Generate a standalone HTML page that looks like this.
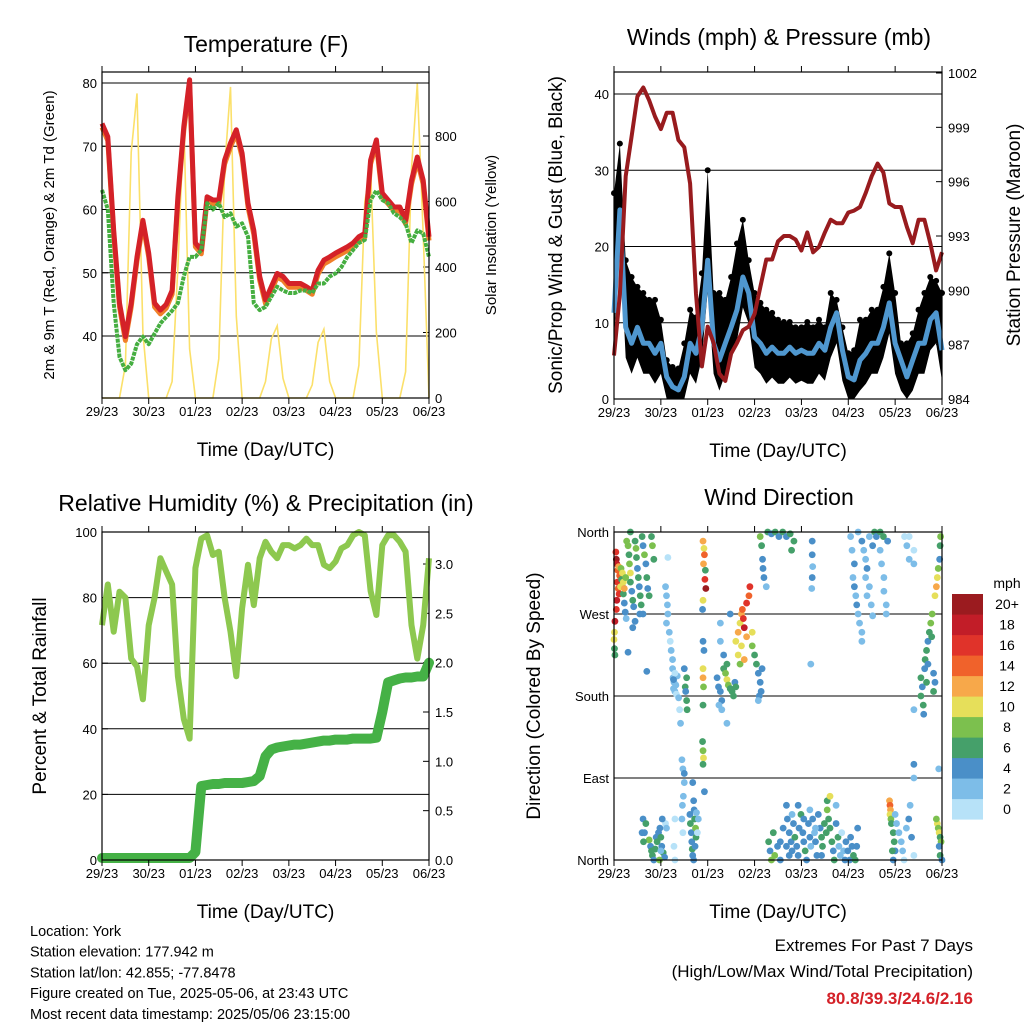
<!DOCTYPE html>
<html><head><meta charset="utf-8"><style>
html,body{margin:0;padding:0;background:#fff;}
svg{display:block;font-family:"Liberation Sans",sans-serif;}
</style></head><body>
<svg id="root" width="1024" height="1024" viewBox="0 0 1024 1024" xmlns="http://www.w3.org/2000/svg"></svg>
<script>
// ===== DATA (3-hourly samples, index i => day i/8) =====
const dayLabels = ["29/23","30/23","01/23","02/23","03/23","04/23","05/23","06/23"];
const tempRed = [73.6,71.5,56.7,45.2,39.9,45.2,52.5,58.3,53.1,45.2,44.1,45,47.2,62,73.1,80.5,54.7,53.6,62,61.5,61.5,67.8,70.5,72.6,68.9,61,56.7,49.4,45.7,47.8,49.9,49.4,48.3,48.3,48.3,47.8,47.2,50.4,52,52.5,53.1,53.6,54.1,54.7,55.7,56.2,67.8,71,62.6,61.5,60.4,60.4,58.3,64.6,68.3,64.6,55.7];
const dewGreen = [63.1,60,45.2,36.7,34.6,35.6,38.7,39.9,38.7,40.4,42,43,44,45.2,49.4,52.5,52.5,53.6,61,60,61,58.8,59.4,57.3,57.8,55.7,45.2,44.1,44.6,46.2,47.8,47.2,46.8,46.8,47.2,47.2,46.8,48.3,48.3,49.4,49.9,50.9,52.5,53.6,54.7,55.2,61.5,63,61.5,61,59.4,58.8,57.8,54.7,56.7,56.2,52.5];
const solar = [0,0,0,0,100,750,930,200, 0,0,0,0,50,400,850,150, 0,0,0,0,120,700,950,250, 0,0,0,0,50,180,220,60, 0,0,0,0,40,170,210,50, 0,0,0,0,100,600,700,200, 0,0,0,0,80,700,960,500, 0];
const windSpeed = [11.3,24.8,9.4,7.3,9.4,7.3,7.3,6,7.3,2.9,1.6,1.2,2.9,7.3,6,9.4,18.2,7.3,5.1,7.3,9.4,11.7,16,13.9,8.1,7.3,6,6.8,6,6,6.8,6,6.4,6,6,7.3,6.4,9.4,11.3,6.4,2.9,2.5,5.1,6,7.3,7.3,9.4,12.6,7.3,5.1,2.9,5.1,7.3,7.3,10.4,11.3,6.4];
const windGust = [27,33.5,18.2,16,14.7,13.9,13,13,10.4,5.1,4.2,4,7.3,11.7,10.7,16.5,30,13.9,13.9,13,16,20.4,23.5,18.2,13.9,12.6,11.7,11.3,10.4,10.1,10.1,9.4,9.4,10.1,9.4,10.4,9.4,13.9,13,9.4,6,6.4,10.4,10.4,11.7,11.7,14.7,19.1,13.9,7.3,7.3,8.6,11.7,13.9,16,15.5,13.9];
const pressure = [986.4,989.8,996.3,998.5,1000.7,1001.2,1000.5,999.6,998.9,999.8,999.8,998.3,997.9,995.9,989.8,985.8,988,987.1,985.4,985,986.5,987.1,987.8,988,988.7,990.2,991.7,991.7,992.7,993,993,992.8,992.2,993.2,992.1,992.4,993.2,993.9,993.7,993.7,994.3,994.4,994.6,995.4,996.3,997,996.5,994.8,994.6,994.6,993.5,992.6,993.9,993.9,992.6,991.1,992.1];
const relHum = [71.6,84,69.6,81.8,80,61.4,59,49,71.6,80,92,88,84,56,43,37,89,98,99,93,94,80,69.6,56,76.7,90,77.7,92,97,94,92,96,96,95,96,98,96,96,90,89,91,95,96,99,100,99,82,74.7,96,99,99,97,94,71.6,61.4,71.6,92];
const precip = [0.02,0.02,0.02,0.02,0.02,0.02,0.02,0.02,0.02,0.02,0.02,0.02,0.02,0.02,0.02,0.02,0.08,0.75,0.76,0.77,0.77,0.78,0.78,0.78,0.78,0.79,0.80,0.85,1.05,1.12,1.14,1.15,1.16,1.17,1.17,1.18,1.19,1.20,1.21,1.21,1.22,1.22,1.22,1.23,1.23,1.23,1.23,1.24,1.5,1.80,1.82,1.84,1.85,1.85,1.86,1.86,2.0];
const tempTicks = [40,50,60,70,80];
const solarTicks = [0,200,400,600,800];
const windTicks = [0,10,20,30,40];
const pressTicks = [984,987,990,993,996,999,1002];
const rhTicks = [0,20,40,60,80,100];
const rainTicks = [0.0,0.5,1.0,1.5,2.0,2.5,3.0];
const dirTicks = [0,90,180,270,360];
const dirTickLabels = ["North","East","South","West","North"];
const speedBins = ["0","2","4","6","8","10","12","14","16","18","20+"];
const speedColors = ["#b7e2f8","#7dbde8","#4a8fc8","#45a06a","#7cc04e","#e6df5a","#f7a84a","#f0622b","#e0332a","#c21d28","#9b1b1f"];
// [day, direction deg, speed mph]
const windDirObs = [
[0.04,338,16],[0.05,330,20],[0.06,325,18],[0.08,318,14],[0.1,322,12],[0.12,312,14],[0.07,305,16],[0.09,298,14],[0.11,292,16],[0.06,285,18],[0.05,275,16],[0.02,262,18],[0.01,250,10],[0.0,242,10],[0.01,232,6],[0.02,225,6],[0.15,320,8],[0.16,308,6],[0.18,300,4],[0.2,292,6],[0.22,282,4],[0.24,272,4],[0.26,265,2],[0.14,300,10],[0.18,315,10],[0.2,305,10],[0.22,298,12],[0.25,310,8],[0.3,228,4],
[0.3,345,8],[0.32,335,6],[0.33,325,8],[0.35,315,10],[0.35,305,6],[0.38,295,4],[0.4,285,6],[0.42,278,4],[0.45,350,6],[0.47,342,8],[0.48,332,6],[0.5,320,4],[0.52,310,6],[0.54,300,4],[0.56,290,6],[0.58,280,6],[0.6,355,6],[0.62,345,4],[0.65,335,8],[0.68,325,4],[0.7,310,6],[0.72,298,4],[0.75,290,6],[0.8,355,6],[0.82,345,8],[0.85,330,6],[0.62,270,4],[0.55,270,4],[0.45,262,4],[0.4,255,4],[0.7,207,4],[0.35,360,6],[0.27,350,8],
[1.15,332,0],[1.1,300,2],[1.12,290,2],[1.14,280,2],[1.15,270,2],[1.12,260,2],[1.18,250,2],[1.2,240,0],[1.22,230,2],[1.25,220,2],[1.25,210,2],[1.26,200,2],[1.28,195,2],[1.27,188,2],[1.3,185,2],[1.32,192,2],[1.35,202,2],[1.3,205,0],[1.27,198,4],[1.33,182,0],[1.38,178,2],[1.4,165,0],[1.42,150,2],[1.45,110,2],[1.47,100,2],[1.5,85,2],[1.48,70,2],[1.46,60,2],[1.45,45,2],[1.47,30,0],[1.3,45,0],[1.28,15,0],[1.3,0,0],[1.5,210,4],[1.52,190,6],[1.55,200,6],[1.53,185,4],[1.55,175,6],[1.56,165,6],[1.5,95,4],
[0.62,45,4],[0.68,40,6],[0.65,30,4],[0.75,22,8],[0.78,15,4],[0.8,10,6],[0.82,5,6],[0.85,0,4],[0.88,12,6],[0.9,25,4],[0.92,20,6],[0.95,30,4],[0.98,35,4],[1.0,25,6],[1.02,15,4],[1.05,8,6],[1.08,3,4],[0.97,0,8],[1.0,10,2],[1.1,40,0],[1.12,35,2],[0.63,20,6],[0.6,30,4],[1.03,45,4],
[1.62,50,4],[1.63,40,6],[1.65,30,4],[1.66,20,4],[1.67,12,6],[1.68,5,4],[1.7,0,4],[1.72,45,6],[1.74,35,8],[1.75,25,6],[1.73,15,4],[1.71,55,4],[1.8,45,2],[1.78,30,0],[1.76,52,2],[1.7,65,4],[1.68,85,4],
[1.9,350,12],[1.92,342,10],[1.93,335,14],[1.91,325,12],[1.95,318,6],[1.94,308,16],[1.96,298,20],[1.9,285,10],[1.89,275,4],[1.9,240,4],[1.92,230,4],[1.9,210,10],[1.9,200,12],[1.91,190,8],[1.9,170,6],[1.89,130,6],[1.9,120,8],[1.91,112,10],[1.9,105,6],[1.93,75,4],
[2.2,200,4],[2.23,190,4],[2.27,185,4],[2.3,175,4],[2.34,210,6],[2.38,205,8],[2.41,198,10],[2.44,192,8],[2.48,188,6],[2.52,185,6],[2.55,180,6],[2.58,195,4],[2.6,190,6],[2.41,215,6],[2.34,225,4],[2.27,260,2],[2.27,240,2],[2.24,170,2],[2.3,165,2],[2.48,270,4],[2.41,150,2],
[2.6,240,10],[2.65,250,12],[2.69,260,10],[2.72,270,12],[2.74,275,14],[2.76,265,16],[2.78,255,18],[2.83,282,16],[2.88,290,14],[2.9,300,16],[2.83,245,12],[2.72,235,10],[2.65,225,10],[2.69,215,8],[2.78,220,12],[2.95,250,10],[2.95,235,8],[3.0,225,6],[3.04,215,6],[3.08,205,4],[3.12,195,4],[3.14,185,4],[3.1,180,4],[3.16,210,4],[3.08,175,2],
[3.12,355,8],[3.15,345,6],[3.17,330,4],[3.18,320,4],[3.2,310,4],[3.25,300,2],[3.28,360,6],[3.36,358,4],[3.44,360,6],[3.52,355,4],[3.6,360,6],[3.68,355,4],[3.76,358,6],[3.84,350,6],[3.79,340,6],
[3.3,20,6],[3.33,10,4],[3.36,0,8],[3.4,30,6],[3.43,5,8],[3.49,15,4],[3.55,0,4],[3.61,35,4],[3.68,60,4],[3.7,45,4],[3.74,30,4],[3.78,20,4],[3.8,10,4],[3.83,40,4],[3.86,25,6],[3.9,15,4],[3.93,5,4],[3.95,35,4],[3.99,50,6],[4.03,30,4],[4.05,20,4],[4.08,10,6],[4.11,0,4],[4.15,40,4],[4.18,25,4],[4.2,15,2],[4.24,45,4],[4.28,30,2],[4.3,20,4],[4.33,5,4],[4.36,50,4],[4.4,35,4],[4.43,25,6],[4.45,15,6],[4.49,40,6],[4.53,30,6],[4.55,55,8],[4.58,45,6],[4.61,35,6],[4.65,20,6],[4.68,10,4],[4.7,0,6],[4.74,40,4],[4.78,25,6],[4.8,15,2],[4.83,5,2],[4.86,30,0],[4.9,10,2],[4.93,0,4],[4.95,20,4],[4.99,10,4],[5.03,0,4],[5.05,25,4],[5.08,15,4],[5.11,5,6],[5.15,0,6],[5.18,15,4],[5.2,35,4],[3.8,50,2],[3.93,60,4],[4.05,45,4],[4.18,55,2],[4.3,35,2],[4.55,65,6],[4.61,70,10],[3.55,20,4],[3.68,15,4],[3.74,5,4],[4.43,5,4],[4.74,60,2],
[4.23,350,4],[4.23,335,4],[4.24,322,2],[4.23,310,4],[4.22,298,2],[4.2,215,2],[5.05,355,2],[5.08,340,2],[5.13,325,4],[5.1,310,2],[5.13,300,4],[5.16,290,2],[5.18,280,4],[5.21,270,2],[5.24,260,2],[5.29,250,2],[5.21,360,2],[5.29,350,4],[5.33,340,2],[5.37,330,2],[5.4,320,4],[5.37,310,2],[5.45,300,2],[5.4,290,2],[5.49,280,2],[5.52,268,2],[5.45,355,2],[5.52,345,4],[5.56,360,6],[5.6,355,4],[5.68,340,2],[5.71,325,2],[5.76,310,2],[5.76,295,2],[5.81,280,2],[5.81,270,2],[5.68,360,6],[5.75,355,6],[5.84,350,4],[5.29,240,2],
[5.88,65,12],[5.89,60,14],[5.9,55,12],[5.89,50,10],[5.91,45,8],[5.92,40,6],[5.96,30,6],[5.98,20,6],[6.0,10,4],[6.0,50,2],[6.03,40,2],[6.08,30,2],[6.13,20,2],[6.16,10,2],[6.19,0,0],[6.24,35,2],[6.29,45,4],[6.32,60,2],[6.35,25,4],[6.4,5,0],[5.96,0,4],[5.94,10,6],[6.4,90,2],[6.2,355,0],[6.25,345,2],[6.3,330,2],[6.3,355,0],[6.4,340,0],[6.4,325,2],
[6.55,200,6],[6.58,190,4],[6.55,180,6],[6.6,170,6],[6.61,160,4],[6.63,210,4],[6.64,220,6],[6.67,230,6],[6.7,240,4],[6.73,250,6],[6.76,260,8],[6.79,270,8],[6.78,245,6],[6.7,215,4],[6.67,195,6],[6.82,205,4],[6.85,195,4],[6.82,185,6],[6.4,165,2],[6.4,105,4],[6.85,290,10],[6.88,300,12],[6.9,310,10],[6.92,320,8],[6.95,330,4],[6.96,345,6],[6.97,355,8],[6.93,100,2],
[6.9,40,10],[6.92,35,8],[6.94,30,10],[6.96,25,6],[6.98,20,8],[6.94,15,4],[6.96,5,6],[7.0,0,4],[6.88,45,8]
];

// ===== HELPERS =====
const NS="http://www.w3.org/2000/svg";
const root=document.getElementById('root');
function el(tag,attrs,parent,text){const e=document.createElementNS(NS,tag);for(const k in attrs)e.setAttribute(k,attrs[k]);if(text!==undefined)e.textContent=text;(parent||root).appendChild(e);return e;}
function lin(d0,d1,r0,r1){return v=>r0+(v-d0)/(d1-d0)*(r1-r0);}
function frame(p,name){
  const g=el('g',{},root);
  
  
  return g;
}
function xAxis(g,p){
  const sx=lin(0,7,p.x0,p.x1);
  dayLabels.forEach((lab,i)=>{
    const x=sx(i);
    el('line',{x1:x,y1:p.y1,x2:x,y2:p.y1+6,stroke:'#000','stroke-width':1},g);
    el('line',{x1:x,y1:p.y0,x2:x,y2:p.y0-6,stroke:'#000','stroke-width':1},g);
    const t=el('text',{x:x,y:p.y1+18,'font-size':13,'text-anchor':'middle'},g,lab);
    
    
  });
  const xt=el('text',{x:(p.x0+p.x1)/2,y:p.y1+58,'font-size':19,'text-anchor':'middle'},g,'Time (Day/UTC)');
  
  
}
function yTicks(g,p,ticks,scale,side,labels,grid){
  ticks.forEach((v,i)=>{
    const y=scale(v);
    if(grid) el('line',{x1:p.x0,y1:y,x2:p.x1,y2:y,stroke:'#000','stroke-width':1},g);
    const x=side==='l'?p.x0:p.x1;
    el('line',{x1:x,y1:y,x2:side==='l'?x+6:x-6,y2:y,stroke:'#000','stroke-width':1},g);
    const t=el('text',{x:side==='l'?x-5:x+6,y:y+5,'font-size':13,'text-anchor':side==='l'?'end':'start'},g,labels?labels[i]:String(v));
    
    
  });
}
function border(g,p){el('rect',{x:p.x0,y:p.y0,width:p.x1-p.x0,height:p.y1-p.y0,fill:'none',stroke:'#000','stroke-width':1.2},g);}
function title(text,x,y,name){const t=el('text',{x:x,y:y,'font-size':23,'text-anchor':'middle'},root,text);}
function vtitle(text,x,y,size,name){const t=el('text',{x:x,y:y,'font-size':size,'text-anchor':'middle',transform:`rotate(-90 ${x} ${y})`},root,text);}
function pathFrom(arr,sx,sy){return arr.map((v,i)=>(i?'L':'M')+sx(i/8).toFixed(1)+','+sy(v).toFixed(1)).join('');}

// ===== PANEL 1: Temperature =====
(function(){
  const p={x0:102,x1:429,y0:72,y1:398};
  const g=frame(p,'temperature-panel');
  const sx=lin(0,7,p.x0,p.x1), sy=lin(40,80,336,83), ss=lin(0,800,398,136);
  yTicks(g,p,tempTicks,sy,'l',null,true);
  yTicks(g,p,solarTicks,ss,'r',null,false);
  const s=el('path',{d:pathFrom(solar,sx,ss),fill:'none',stroke:'#fbe06a','stroke-width':1.6},g);
  
  const o=el('path',{d:pathFrom(tempRed.map(v=>v-0.6),sx,sy),fill:'none',stroke:'#f07f2a','stroke-width':5,'stroke-linejoin':'round'},g);
  
  const r=el('path',{d:pathFrom(tempRed,sx,sy),fill:'none',stroke:'#d42128','stroke-width':5,'stroke-linejoin':'round'},g);
  
  const d=el('path',{d:pathFrom(dewGreen,sx,sy),fill:'none',stroke:'#45ae40','stroke-width':4,'stroke-dasharray':'4 1','stroke-linejoin':'round'},g);
  
  border(g,p); xAxis(g,p);
  title('Temperature (F)',266,52,'temperature-title');
  vtitle('2m & 9m T (Red, Orange) & 2m Td (Green)',54,235,15,'temperature-y-title');
  vtitle('Solar Insolation (Yellow)',496,235,15,'solar-y-title');
})();

// ===== PANEL 2: Winds & Pressure =====
(function(){
  const p={x0:614,x1:942,y0:72,y1:399};
  const g=frame(p,'winds-panel');
  const sx=lin(0,7,p.x0,p.x1), sy=lin(0,40,399,94), sp=lin(984,1002,399,73);
  yTicks(g,p,windTicks,sy,'l',null,true);
  yTicks(g,p,pressTicks,sp,'r',null,false);
  const up=windGust.map((v,i)=>sx(i/8).toFixed(1)+','+sy(v).toFixed(1));
  const lo=windSpeed.map((v,i)=>sx(i/8).toFixed(1)+','+sy(Math.max(0,v-4)).toFixed(1)).reverse();
  const band=el('polygon',{points:up.concat(lo).join(' '),fill:'#000'},g);
  
  windGust.forEach((v,i)=>{const c=el('circle',{cx:sx(i/8),cy:sy(v),r:3,fill:'#000'},g);
    });
  const b=el('path',{d:pathFrom(windSpeed,sx,sy),fill:'none',stroke:'#4f97cf','stroke-width':5,'stroke-linejoin':'round'},g);
  
  const pr=el('path',{d:pathFrom(pressure,sx,sp),fill:'none',stroke:'#981b1e','stroke-width':4,'stroke-linejoin':'round'},g);
  
  border(g,p); xAxis(g,p);
  title('Winds (mph) & Pressure (mb)',779,45,'winds-title');
  vtitle('Sonic/Prop Wind & Gust (Blue, Black)',562,235,19,'winds-y-title');
  vtitle('Station Pressure (Maroon)',1020,235,19,'pressure-y-title');
})();

// ===== PANEL 3: RH & Precip =====
(function(){
  const p={x0:102,x1:429,y0:532,y1:860};
  const g=frame(p,'humidity-panel');
  const sx=lin(0,7,p.x0,p.x1), sy=lin(0,100,860,532), sr=lin(0,3,860,564);
  yTicks(g,p,rhTicks,sy,'l',null,true);
  yTicks(g,p,rainTicks,sr,'r',rainTicks.map(v=>v.toFixed(1)),false);
  const h=el('path',{d:pathFrom(relHum,sx,sy),fill:'none',stroke:'#8dc84f','stroke-width':6,'stroke-linejoin':'round'},g);
  
  const r=el('path',{d:pathFrom(precip,sx,sr),fill:'none',stroke:'#45b146','stroke-width':10,'stroke-linejoin':'round','stroke-linecap':'round'},g);
  
  border(g,p); xAxis(g,p);
  title('Relative Humidity (%) & Precipitation (in)',266,511,'humidity-title');
  vtitle('Percent & Total Rainfall',46,696,19,'humidity-y-title');
})();

// ===== PANEL 4: Wind direction =====
(function(){
  const p={x0:614,x1:942,y0:532,y1:860};
  const g=frame(p,'wind-direction-panel');
  const sx=lin(0,7,p.x0,p.x1), sy=lin(0,360,860,532);
  yTicks(g,p,dirTicks,sy,'l',dirTickLabels,true);
  windDirObs.forEach(o=>{
    const bin=Math.min(10,Math.max(0,Math.round(o[2]/2)));
    const c=el('circle',{cx:sx(o[0]),cy:sy(o[1]),r:3.4,fill:speedColors[bin]},g);
    
    
  });
  border(g,p); xAxis(g,p);
  title('Wind Direction',779,505,'wind-direction-title');
  vtitle('Direction (Colored By Speed)',540,696,19,'wind-direction-y-title');
  const lg=el('g',{},root);
  
  
  el('text',{x:1007,y:588,'font-size':14,'text-anchor':'middle'},lg,'mph');
  for(let i=0;i<speedBins.length;i++){
    const y=594+(10-i)*20.5;
    const r=el('rect',{x:952,y:y,width:31,height:20.6,fill:speedColors[i]},lg);
    
    el('text',{x:1007,y:y+15,'font-size':14,'text-anchor':'middle'},lg,speedBins[i]);
  }
})();

// ===== FOOTER =====
const info=["Location: York","Station elevation: 177.942 m","Station lat/lon: 42.855; -77.8478","Figure created on Tue, 2025-05-06, at 23:43 UTC","Most recent data timestamp: 2025/05/06 23:15:00"];
info.forEach((s,i)=>{const t=el('text',{x:30,y:936+i*20.7,'font-size':14.5},root,s);});
(function(){
  const a=el('text',{x:973,y:951,'font-size':17,'text-anchor':'end'},root,'Extremes For Past 7 Days');
  
  const b=el('text',{x:973,y:977,'font-size':17,'text-anchor':'end'},root,'(High/Low/Max Wind/Total Precipitation)');
  
  const c=el('text',{x:973,y:1004,'font-size':17,'font-weight':'bold','text-anchor':'end',fill:'#d42128'},root,'80.8/39.3/24.6/2.16');
  
})();
</script>
</body></html>
